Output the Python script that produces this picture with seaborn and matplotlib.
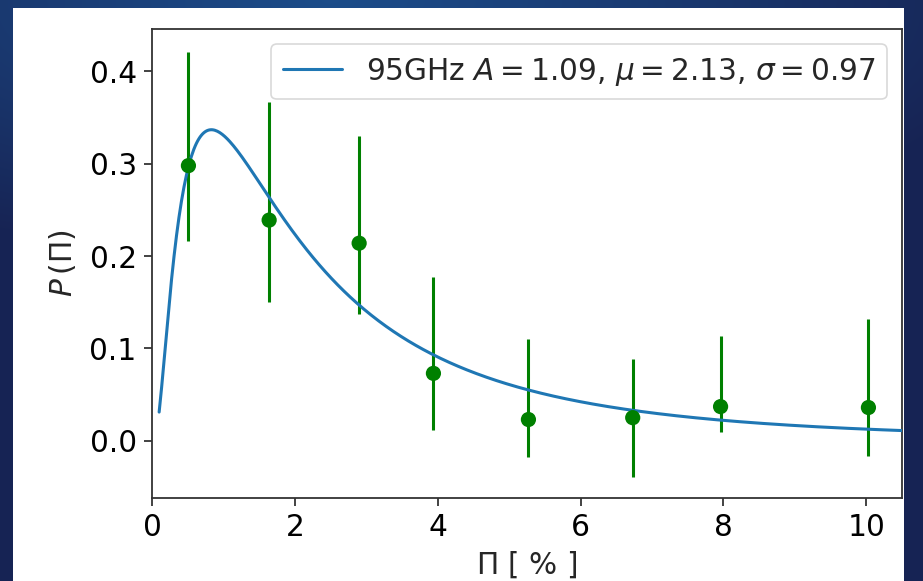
import numpy as np
import pandas as pd
import matplotlib
matplotlib.use("Agg")
import matplotlib.pyplot as plt
from matplotlib.patches import Rectangle
import seaborn as sns

# Measured polarisation-fraction distribution (95 GHz)
pol_frac = [0.51, 1.64, 2.90, 3.94, 5.27, 6.73, 7.96, 10.03]
prob = [0.298, 0.239, 0.214, 0.073, 0.023, 0.025, 0.037, 0.036]
err_low = [0.082, 0.089, 0.077, 0.061, 0.041, 0.064, 0.027, 0.052]
err_high = [0.123, 0.128, 0.116, 0.104, 0.087, 0.064, 0.077, 0.096]

# Log-normal fit parameters
fit_A = 1.09
fit_mu = 2.13
fit_sigma = 0.97
band = "95GHz"

x_ticks = [0, 2, 4, 6, 8, 10]
y_ticks = [0.0, 0.1, 0.2, 0.3, 0.4]

sns.set_theme(style="ticks")
plt.rcParams["font.family"] = ["DejaVu Sans"]
plt.rcParams["mathtext.fontset"] = "dejavusans"

FS = 21.3
W, H = 923, 581
fig = plt.figure(figsize=(W / 100, H / 100), dpi=100)

# slide background: blue gradient
bg = fig.add_axes([0, 0, 1, 1], zorder=-10)
yy, xx = np.mgrid[0:H, 0:W]
d = np.sqrt(((xx - 330) / 700.0) ** 2 + (yy / 260.0) ** 2)
t = np.clip(d, 0, 1)[..., None]
light = np.array([0.11, 0.30, 0.54])
dark = np.array([0.09, 0.14, 0.33])
img = light * (1 - t) + dark * t
bg.imshow(img, aspect="auto", extent=[0, 1, 0, 1], origin="upper")
bg.set_axis_off()
# white figure panel
fig.patches.append(Rectangle((13 / W, 0), (904 - 13) / W, (H - 8) / H,
                             transform=fig.transFigure, facecolor="white",
                             edgecolor="none", zorder=-5))

ax = fig.add_axes([152 / W, (H - 498) / H, (902 - 152) / W, (498 - 29) / H])
ax.set_facecolor("white")

# fitted log-normal curve from the stated parameters
xs = np.linspace(0.1, 10.5, 600)
pdf = fit_A / (xs * fit_sigma * np.sqrt(2 * np.pi)) * np.exp(
    -(np.log(xs / fit_mu)) ** 2 / (2 * fit_sigma ** 2))
fit_df = pd.DataFrame({"x": xs, "p": pdf})
label = (f"{band} $A={fit_A:.2f}$, $\\mu={fit_mu:.2f}$, "
         f"$\\sigma={fit_sigma:.2f}$")
sns.lineplot(data=fit_df, x="x", y="p", ax=ax, color="#1f77b4",
             linewidth=2.2, label=label, zorder=3)

pts = pd.DataFrame({"x": pol_frac, "p": prob})
ax.errorbar(pts["x"], pts["p"], yerr=[err_low, err_high], fmt="none",
            ecolor="green", elinewidth=2.2, zorder=2)
sns.scatterplot(data=pts, x="x", y="p", ax=ax, color="green", s=120,
                edgecolor="none", zorder=4, legend=False)

ax.set_xlim(0, 10.5)
ax.set_ylim(-0.062, 0.446)
ax.set_xticks(x_ticks)
ax.set_yticks(y_ticks)
ax.set_yticklabels([f"{v:.1f}" for v in y_ticks])
ax.tick_params(labelsize=FS, length=6, width=1.2, pad=5, colors="#222222",
               labelcolor="black")
for s in ax.spines.values():
    s.set_linewidth(1.3)
    s.set_color("#333333")

ax.set_xlabel("$\\Pi$ [ % ]", fontsize=FS, labelpad=5)
ax.set_ylabel("$P\\,(\\Pi)$", fontsize=FS, labelpad=8)

leg = ax.legend(loc="upper right", fontsize=FS, frameon=True, fancybox=True,
                handlelength=2.0, handletextpad=0.8, borderpad=0.4)
leg.get_frame().set_edgecolor("#d0d0d0")
leg.get_frame().set_linewidth(1.2)

fig.savefig("out.png", dpi=100)
